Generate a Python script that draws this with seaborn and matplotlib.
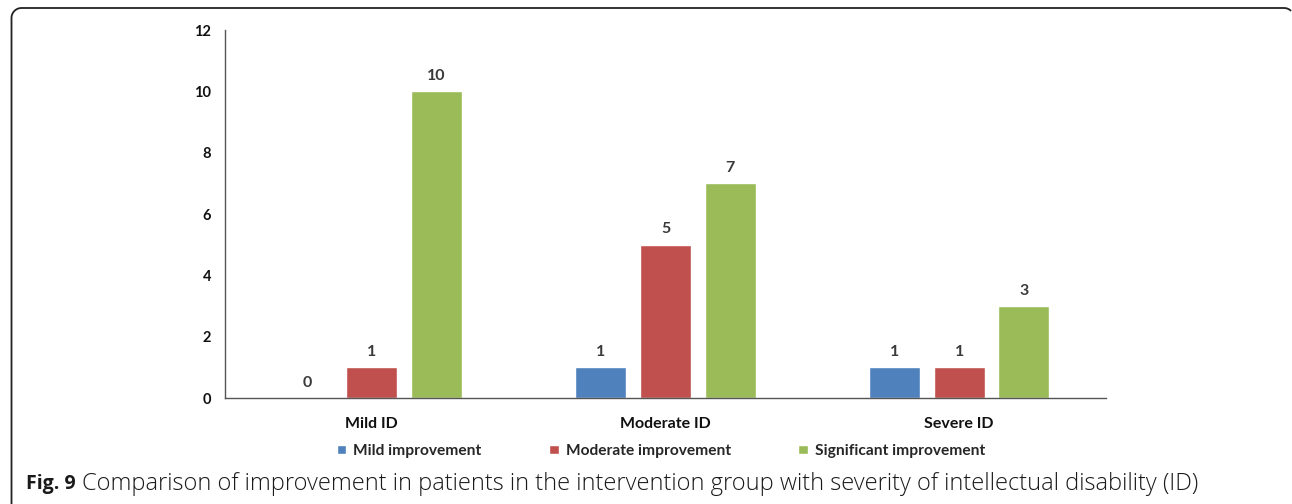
import matplotlib
matplotlib.use("Agg")
import matplotlib.pyplot as plt
from matplotlib.patches import PathPatch
from matplotlib.path import Path
from matplotlib.transforms import IdentityTransform
import seaborn as sns
import pandas as pd
import numpy as np

# Patients per ID severity, by improvement level
categories = ["Mild ID", "Moderate ID", "Severe ID"]
levels = ["Mild improvement", "Moderate improvement", "Significant improvement"]
mild_improvement = [0, 1, 1]
moderate_improvement = [1, 5, 1]
significant_improvement = [10, 7, 3]
y_ticks = [0, 2, 4, 6, 8, 10, 12]
caption_bold = "Fig. 9"
caption_text = ("Comparison of improvement in patients in the intervention group "
                "with severity of intellectual disability (ID)")

colors = ["#4F81BD", "#C0504D", "#9BBB59"]

rows = []
for lvl, vals in zip(levels, [mild_improvement, moderate_improvement, significant_improvement]):
    for cat, v in zip(categories, vals):
        rows.append({"Severity": cat, "Improvement": lvl, "Patients": v})
df = pd.DataFrame(rows)

sns.set_theme(style="white")
plt.rcParams["font.family"] = ["Lato", "DejaVu Sans"]

W, H, DPI = 1292, 504, 100
fig = plt.figure(figsize=(W / DPI, H / DPI), dpi=DPI)
ax = fig.add_axes([225 / W, 106 / H, (1106 - 225) / W, (398 - 30) / H])

sns.barplot(data=df, x="Severity", y="Patients", hue="Improvement",
            order=categories, hue_order=levels, palette=colors,
            width=0.66, gap=0.21, saturation=1, errorbar=None,
            legend=True, ax=ax)

text_col = "#3a3a3a"
for cont in ax.containers:
    ax.bar_label(cont, fmt="%d", padding=6, fontsize=11.5, fontweight="bold",
                 color=text_col)

ax.set_xlim(-0.5, 2.5)
ax.set_ylim(0, 12)
ax.set_yticks(y_ticks)
ax.set_yticklabels([str(t) for t in y_ticks], fontsize=10.5, fontweight="bold",
                   color="#111111")
ax.set_xticks(range(len(categories)))
ax.set_xticklabels(categories, fontsize=11.5, fontweight="bold", color="#111111")
ax.tick_params(axis="y", length=0, pad=10)
ax.tick_params(axis="x", length=0, pad=14)
ax.set_xlabel("")
ax.set_ylabel("")
for side in ["top", "right"]:
    ax.spines[side].set_visible(False)
for side in ["left", "bottom"]:
    ax.spines[side].set_color("#555555")
    ax.spines[side].set_linewidth(1.0)

handles, labels = ax.get_legend_handles_labels()
ax.legend_.remove()
fig.legend(handles, labels, loc="center", bbox_to_anchor=(661 / W, 1 - 451 / H),
           ncol=3, frameon=False, handlelength=0.6, handleheight=0.6,
           handletextpad=0.45, columnspacing=4.35,
           prop={"family": ["Lato", "DejaVu Sans"], "weight": "bold", "size": 11.2})

# Caption under the chart: bold figure number, then the description
cap_y = 1 - 484 / H
cap_font = ["Open Sans", "DejaVu Sans"]
t1 = fig.text(26 / W, cap_y, caption_bold, fontsize=14, fontweight="bold",
              family=cap_font, va="center", ha="left", color="#1a1a1a")
fig.canvas.draw()
x_start = t1.get_window_extent().x1 + 6
fig.text(x_start / W, cap_y, caption_text, fontsize=17, fontweight="light",
         family=cap_font, va="center", ha="left", color="#1a1a1a")

# Panel frame: left and top edges with rounded corners (pixel coordinates)
r = 10
xl, xr, yt, yb = 11.5, 1294.0, H - 8.0, 0.0
theta1 = np.linspace(np.pi, np.pi / 2, 20)
theta2 = np.linspace(np.pi / 2, np.pi / 4, 10)
pts = [(xl, yb)]
pts += [(xl + r + r * np.cos(t), yt - r + r * np.sin(t)) for t in theta1]
pts += [(xr - r + r * np.cos(t), yt - r + r * np.sin(t)) for t in theta2]
frame = PathPatch(Path(pts), transform=IdentityTransform(), fill=False,
                  edgecolor="#222222", linewidth=1.3, figure=fig)
fig.patches.append(frame)

fig.savefig("out.png", dpi=DPI)
